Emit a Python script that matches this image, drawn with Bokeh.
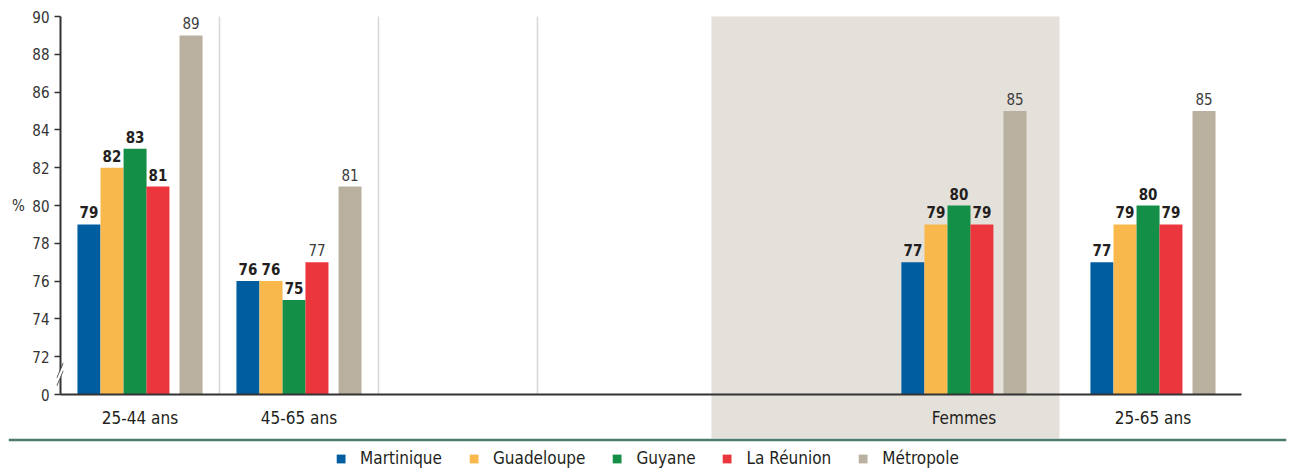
from bokeh.plotting import figure
from bokeh.models import (Range1d, FixedTicker, Span, BoxAnnotation, Legend, LegendItem,
                          ColumnDataSource, PolyAnnotation, Label)
from bokeh.embed import file_html
from bokeh.resources import INLINE
from bokeh.core.properties import value

# ---------------- data ----------------
categories = ["25-44 ans", "45-65 ans", "Femmes", "25-65 ans"]
series_names = ["Martinique", "Guadeloupe", "Guyane", "La Réunion", "Métropole"]
martinique = [79, 76, 77, 77]
guadeloupe = [82, 76, 79, 79]
guyane = [83, 75, 80, 80]
la_reunion = [81, 77, 79, 79]
metropole = [89, 81, 85, 85]
y_ticks = [70, 72, 74, 76, 78, 80, 82, 84, 86, 88, 90]
y_tick_labels = ["0", "72", "74", "76", "78", "80", "82", "84", "86", "88", "90"]
plain_labels = {("45-65 ans", "La Réunion")}   # labels printed in light weight
y_axis_label = "%"

# ---------------- layout / style ----------------
colors = ["#005da0", "#f9b84b", "#148f47", "#ec363d", "#b9b09f"]
label_bold = [True, True, True, True, False]
group_centers = [0.5, 1.5, 5.682, 6.871]          # slot units (1 slot = 159 px)
bar_offsets = [-0.321, -0.176, -0.031, 0.113, 0.321]
bar_width = 0.1447
separators = [1.0, 2.0, 3.0]
shade_left, shade_right = 4.094, 6.283
X_START, X_END = -0.3270, 7.7107                 # frame spans the full width
AXIS_END = 7.428
Y_TOP, Y_BOTTOM = 90.8466, 66.0847               # frame spans the full height
SHADE_BOTTOM = 67.672
RULE_Y = 67.593
FONT = "'DejaVu Sans Condensed', 'Liberation Sans Narrow', sans-serif"
TXT = "#231f20"

series_values = [martinique, guadeloupe, guyane, la_reunion, metropole]

p = figure(frame_width=1278, frame_height=468,
           x_range=Range1d(X_START, X_END), y_range=Range1d(Y_BOTTOM, Y_TOP),
           toolbar_location=None, output_backend="svg",
           min_border_left=8, min_border_right=6, min_border_top=0, min_border_bottom=0,
           outline_line_color=None, background_fill_color="white", border_fill_color="white")
p.grid.visible = False

# shaded band
p.add_layout(BoxAnnotation(left=shade_left, right=shade_right, top=90, bottom=SHADE_BOTTOM,
                           fill_color="#e4e0da", fill_alpha=1, line_color=None, level="underlay"))

# light vertical separators
p.segment(x0=separators, x1=separators, y0=[70] * len(separators), y1=[90] * len(separators),
          line_color="#d9d9d9", line_width=1.6)

# bars + value labels
bar_renderers = []
for si, (name, vals) in enumerate(zip(series_names, series_values)):
    xs = [g + bar_offsets[si] for g in group_centers]
    src = ColumnDataSource(dict(x=xs, top=vals))
    r = p.vbar(x="x", top="top", bottom=70, width=bar_width, source=src,
               fill_color=colors[si], line_color=None)
    bar_renderers.append(r)
    bold_x, bold_y, bold_t, pl_x, pl_y, pl_t = [], [], [], [], [], []
    for x, v, c in zip(xs, vals, categories):
        if label_bold[si] and (c, name) not in plain_labels:
            bold_x.append(x); bold_y.append(v); bold_t.append(str(v))
        else:
            pl_x.append(x); pl_y.append(v); pl_t.append(str(v))
    if bold_x:
        p.text(x=bold_x, y=bold_y, text=bold_t, text_align="center", text_baseline="bottom",
               y_offset=-6, text_font=value(FONT), text_font_style="bold",
               text_font_size="15px", text_color=TXT)
    if pl_x:
        p.text(x=pl_x, y=pl_y, text=pl_t, text_align="center", text_baseline="bottom",
               y_offset=-6, text_font=value(FONT), text_font_style="normal",
               text_font_size="15px", text_color="#3c3c3c")

# x axis (category axis) drawn at y = 70
xa = p.xaxis[0]
xa.fixed_location = 70
xa.bounds = (0, AXIS_END)
xa.ticker = FixedTicker(ticks=group_centers)
xa.major_label_overrides = {g: c for g, c in zip(group_centers, categories)}
xa.axis_line_color = "#333333"
xa.axis_line_width = 2
xa.major_tick_line_color = None
xa.minor_tick_line_color = None
xa.major_label_text_font = FONT
xa.major_label_text_font_size = "17px"
xa.major_label_text_color = TXT
xa.major_label_standoff = 7

# y axis drawn at x = 0
ya = p.yaxis[0]
ya.fixed_location = 0
ya.ticker = FixedTicker(ticks=y_ticks)
ya.major_label_overrides = {t: l for t, l in zip(y_ticks, y_tick_labels)}
ya.bounds = (70, 90)
ya.axis_line_color = "#333333"
ya.axis_line_width = 2
ya.major_tick_line_color = "#333333"
ya.major_tick_line_width = 1.5
ya.major_tick_out = 6
ya.major_tick_in = 0
ya.minor_tick_line_color = None
ya.major_label_text_font = FONT
ya.major_label_text_font_size = "15px"
ya.major_label_text_color = "#333333"
ya.major_label_standoff = 5

# "%" unit label beside the axis
p.add_layout(Label(x=-0.264, y=80, text=y_axis_label, text_align="center",
                   text_baseline="middle", text_font=FONT, text_font_size="15px",
                   text_color="#333333"))

# axis break mark
p.add_layout(PolyAnnotation(xs=[-0.022, 0.016, 0.016, -0.022], ys=[70.45, 71.20, 71.62, 70.87],
                            fill_color="white", fill_alpha=1, line_color=None, level="overlay"))
for dy in (0.0, 0.42):
    p.add_layout(PolyAnnotation(xs=[-0.022, 0.016, 0.016, -0.022],
                                ys=[70.45 + dy, 71.20 + dy, 71.26 + dy, 70.51 + dy],
                                fill_color="#333333", fill_alpha=1, line_color="#333333",
                                line_width=0.8, level="overlay"))

# green rule under the chart (full width)
p.add_layout(Span(location=RULE_Y, dimension="width", line_color="#4d7b70", line_width=2.5))

# legend, inside the frame at its bottom
items = [LegendItem(label=n, renderers=[r]) for n, r in zip(series_names, bar_renderers)]
legend = Legend(items=items, orientation="horizontal", location="bottom_center",
                glyph_width=11, glyph_height=11, label_standoff=14, spacing=26,
                padding=2, margin=0, border_line_color=None, background_fill_alpha=0,
                label_height=18,
                label_text_font=FONT, label_text_font_size="17px", label_text_color=TXT)
p.add_layout(legend)

open("out.html", "w").write(file_html(p, INLINE))
